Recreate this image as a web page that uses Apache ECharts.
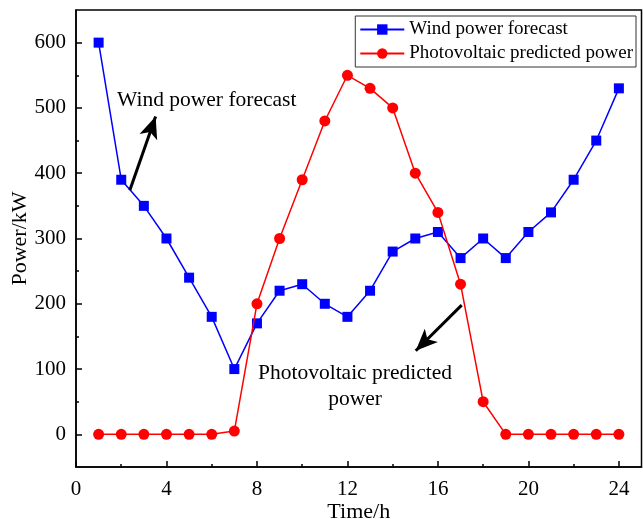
<!DOCTYPE html>
<html>
<head>
<meta charset="utf-8">
<script src="https://cdn.jsdelivr.net/npm/echarts@6/dist/echarts.min.js"></script>
<style>
  html, body { margin: 0; padding: 0; background: #fff; }
  #main { width: 643px; height: 519px; }
</style>
</head>
<body>
<div id="main"></div>
<script>
// data
const hours = [1,2,3,4,5,6,7,8,9,10,11,12,13,14,15,16,17,18,19,20,21,22,23,24];
const windPower = [600,390,350,300,240,180,100,170,220,230,200,180,220,280,300,310,270,300,270,310,340,390,450,530];
const pvPower = [0,0,0,0,0,0,5,200,300,390,480,550,530,500,400,340,230,50,0,0,0,0,0,0];
const xTicks = [0,4,8,12,16,20,24];
const xMinorTicks = [2,6,10,14,18,22];
const yTicks = [0,100,200,300,400,500,600];
const yMinorTicks = [50,150,250,350,450,550];

const font = 'Liberation Serif, Times New Roman, serif';

let chart = echarts.init(document.getElementById('main'));

let option = {
  animation: false,
  backgroundColor: '#fff',
  textStyle: { fontFamily: font },
  grid: {
    left: 76, right: 1.5, top: 10, bottom: 52,
    outerBoundsMode: 'none',
    show: true, borderColor: '#000', borderWidth: 1.5
  },
  legend: {
    right: 7, top: 16,
    orient: 'vertical',
    itemWidth: 44, itemHeight: 13, itemGap: 5,
    padding: [4, 3, 4, 4],
    borderColor: '#333', borderWidth: 1,
    textStyle: { fontFamily: font, fontSize: 19, color: '#000' },
    data: ['Wind power forecast', 'Photovoltaic predicted power']
  },
  xAxis: [
    {
      type: 'value', min: 0, max: 25,
      name: 'Time/h', nameLocation: 'middle', nameGap: 34, nameMoveOverlap: false,
      nameTextStyle: { fontFamily: font, fontSize: 22, color: '#000' },
      axisLine: { onZero: false, lineStyle: { color: '#000', width: 1.5 } },
      axisTick: { inside: true, length: 6, customValues: xTicks, lineStyle: { color: '#000', width: 1.5 } },
      axisLabel: { customValues: xTicks, fontFamily: font, fontSize: 21, color: '#000', margin: 12 },
      splitLine: { show: false }
    },
    {
      type: 'value', min: 0, max: 25, position: 'bottom',
      axisLine: { show: false, onZero: false },
      axisTick: { inside: true, length: 3, customValues: xMinorTicks, lineStyle: { color: '#000', width: 1.5 } },
      axisLabel: { show: false },
      splitLine: { show: false }
    }
  ],
  yAxis: [
    {
      type: 'value', min: -50, max: 650,
      name: 'Power/kW', nameLocation: 'middle', nameGap: 45, nameRotate: 90, nameMoveOverlap: false,
      nameTextStyle: { fontFamily: font, fontSize: 22, color: '#000' },
      axisLine: { show: true, onZero: false, lineStyle: { color: '#000', width: 1.5 } },
      axisTick: { show: true, inside: true, length: 6, customValues: yTicks, lineStyle: { color: '#000', width: 1.5 } },
      axisLabel: { customValues: yTicks, fontFamily: font, fontSize: 21, color: '#000', margin: 10 },
      splitLine: { show: false }
    },
    {
      type: 'value', min: -50, max: 650, position: 'left',
      axisLine: { show: false, onZero: false },
      axisTick: { show: true, inside: true, length: 3, customValues: yMinorTicks, lineStyle: { color: '#000', width: 1.5 } },
      axisLabel: { show: false },
      splitLine: { show: false }
    }
  ],
  series: [
    {
      name: 'Wind power forecast',
      type: 'line',
      data: hours.map((h, i) => [h, windPower[i]]),
      symbol: 'rect', symbolSize: 10,
      itemStyle: { color: '#0000ff' },
      lineStyle: { color: '#0000ff', width: 1.5 },
      markLine: {
        silent: true,
        symbol: ['none', 'arrow'], symbolSize: [14, 22],
        label: { show: false },
        lineStyle: { color: '#000', width: 3, type: 'solid' },
        data: [
          [{ coord: [2.38, 374] }, { coord: [3.52, 487] }],
          [{ coord: [17.05, 198] }, { coord: [15.02, 128] }]
        ]
      },
      z: 3
    },
    {
      name: 'Photovoltaic predicted power',
      type: 'line',
      data: hours.map((h, i) => [h, pvPower[i]]),
      symbol: 'circle', symbolSize: 11,
      itemStyle: { color: '#ff0000' },
      lineStyle: { color: '#ff0000', width: 1.5 },
      z: 4
    }
  ],
  graphic: [
    {
      type: 'text', left: 117, top: 89,
      style: { text: 'Wind power forecast', font: '21.5px ' + font, fill: '#000' }
    },
    {
      type: 'text', x: 355, y: 360,
      style: {
        text: 'Photovoltaic predicted\npower', font: '21.5px ' + font, fill: '#000',
        align: 'center', lineHeight: 26
      }
    }
  ]
};

chart.setOption(option);
</script>
</body>
</html>
